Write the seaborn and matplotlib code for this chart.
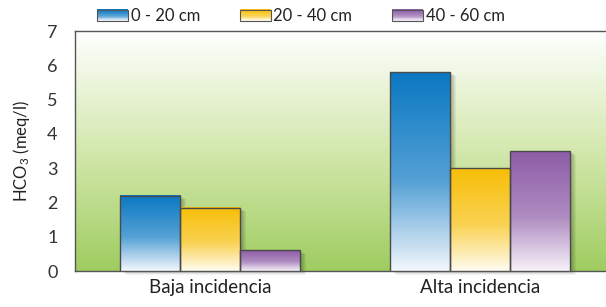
import numpy as np
import pandas as pd
import matplotlib
matplotlib.use("Agg")
import matplotlib.pyplot as plt
import seaborn as sns
from matplotlib.colors import LinearSegmentedColormap, to_rgb
from matplotlib.patches import Rectangle
from matplotlib.legend_handler import HandlerBase
from matplotlib.transforms import ScaledTranslation

groups = ["Baja incidencia", "Alta incidencia"]
depths = ["0 - 20 cm", "20 - 40 cm", "40 - 60 cm"]
hco3_0_20 = [2.2, 5.8]
hco3_20_40 = [1.85, 3.0]
hco3_40_60 = [0.6, 3.5]

top_colors = ["#0a78c2", "#f7be08", "#8d5ca7"]
bottom_colors = ["#f4f7fd", "#fffcf0", "#f7f2f9"]

df = pd.DataFrame({
  "grupo": groups * 3,
  "prof": [d for d in depths for _ in groups],
  "hco3": hco3_0_20 + hco3_20_40 + hco3_40_60,
})


def fade(bottom, top):
  # keeps the colour strong for longer before going pale at the base
  b, t = np.array(to_rgb(bottom)), np.array(to_rgb(top))
  mid = tuple(b + (t - b) * 0.68)
  return LinearSegmentedColormap.from_list(
    "f", [(0, bottom), (0.45, mid), (1, top)])


class GradientHandler(HandlerBase):
  # legend key drawn as thin strips going from light (bottom) to dark (top)
  def __init__(self, top, bottom):
    super().__init__()
    self.top = top
    self.bottom = bottom

  def create_artists(self, legend, orig_handle, xdescent, ydescent,
                     width, height, fontsize, trans):
    cmap = fade(self.bottom, self.top)
    n = 14
    arts = []
    for k in range(n):
      arts.append(Rectangle((-xdescent, -ydescent + height * k / n), width,
                            height / n + 0.3, facecolor=cmap((k + 0.5) / n),
                            edgecolor="none", transform=trans))
    arts.append(Rectangle((-xdescent, -ydescent), width, height,
                          facecolor="none", edgecolor="#555555", lw=0.8,
                          transform=trans))
    return arts


sns.set_style("white")
plt.rcParams["font.family"] = ["Lato", "DejaVu Sans"]
plt.rcParams["mathtext.default"] = "regular"

fig = plt.figure(figsize=(6.06, 3.07), dpi=100)
ax = fig.add_axes([75 / 606, 36 / 307, 540 / 606, 240 / 307])

sns.barplot(data=df, x="grupo", y="hco3", hue="prof", order=groups,
            hue_order=depths, palette=top_colors, width=0.67, gap=0,
            edgecolor="#4a4a4a", linewidth=1.0, errorbar=None,
            legend=False, ax=ax)

# background: white at the top fading to green at the bottom
bg = LinearSegmentedColormap.from_list(
  "bg", [(0, "#9fcc60"), (0.5, "#d3e8ad"), (1, "#ffffff")])
ax.imshow(np.linspace(0, 1, 256).reshape(-1, 1), cmap=bg, origin="lower",
          extent=[-0.5, 1.5, 0, 7], aspect="auto", zorder=0)

grad = np.linspace(0, 1, 256).reshape(-1, 1)
for i, cont in enumerate(ax.containers):
  cmap = fade(bottom_colors[i], top_colors[i])
  for bar in cont:
    x0, y0 = bar.get_x(), bar.get_y()
    w, h = bar.get_width(), bar.get_height()
    bar.set_facecolor("none")
    bar.set_zorder(4)
    ax.imshow(grad, cmap=cmap, origin="lower", extent=[x0, x0 + w, y0, y0 + h],
              aspect="auto", zorder=3)
    # soft drop shadow
    for k in range(1, 7):
      off = ScaledTranslation(k / 100, -k * 0.6 / 100, fig.dpi_scale_trans)
      ax.add_patch(Rectangle((x0, y0), w, h, facecolor="black", alpha=0.05,
                             edgecolor="none", transform=ax.transData + off,
                             zorder=2, clip_on=False))

ax.set_xlim(-0.5, 1.5)
ax.set_ylim(0, 7)
ax.set_yticks(range(0, 8))
ax.set_xticks([0.5], minor=True)
ax.tick_params(axis="x", which="major", length=0, labelsize=13.5, pad=6,
               labelcolor="#222222")
ax.tick_params(axis="x", which="minor", length=5, width=1, color="#444444",
               direction="out")
ax.tick_params(axis="y", length=5, width=1, color="#444444", direction="inout",
               labelsize=13, labelcolor="#333333", pad=10)
ax.set_xlabel("")
ax.set_ylabel("HCO$_3$ (meq/l)", fontsize=12, color="#222222", labelpad=11)
for side in ["left", "bottom", "top"]:
  ax.spines[side].set_color("#555555")
  ax.spines[side].set_linewidth(1.0)
ax.spines["right"].set_visible(False)

proxies = [Rectangle((0, 0), 1, 1) for _ in depths]
hmap = {p: GradientHandler(top_colors[i], bottom_colors[i])
        for i, p in enumerate(proxies)}
fig.legend(proxies, depths, handler_map=hmap, loc="center",
           bbox_to_anchor=(301 / 606, 1 - 16 / 307), ncol=3, frameon=False,
           fontsize=12, handlelength=1.85, handleheight=0.65,
           handletextpad=0.15, columnspacing=2.4, labelcolor="#222222")

fig.savefig("out.png", dpi=100)
